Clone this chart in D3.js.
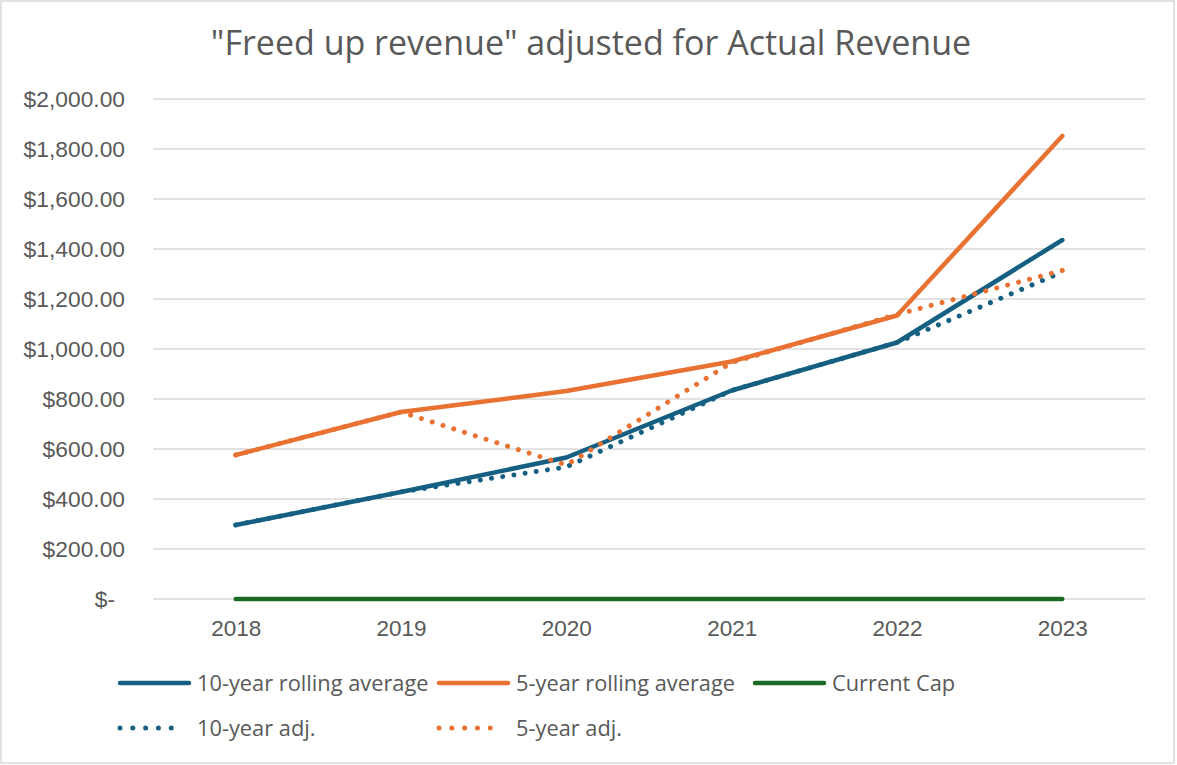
<!DOCTYPE html>
<html>
<head>
<meta charset="utf-8">
<script src="https://cdn.jsdelivr.net/npm/d3@7"></script>
<style>
  body { margin: 0; background: #fff; }
  svg { display: block; }
</style>
</head>
<body>
<svg width="1177" height="765"></svg>
<script>
const years = ['2018', '2019', '2020', '2021', '2022', '2023'];
const tenYear = [296, 428, 566, 834, 1026, 1436];
const fiveYear = [576, 748, 832, 950, 1134, 1852];
const currentCap = [0, 0, 0, 0, 0, 0];
const tenAdj = [296, 428, 528, 834, 1026, 1308];
const fiveAdj = [576, 748, 536, 946, 1138, 1314];
const yTicks = [0, 200, 400, 600, 800, 1000, 1200, 1400, 1600, 1800, 2000];

const svg = d3.select('svg');
const width = +svg.attr('width');
const height = +svg.attr('height');

const textColor = '#595959';
const blue = '#156082';
const orange = '#E97132';
const green = '#196B24';

// chart border
svg.append('rect')
  .attr('x', 1).attr('y', 1)
  .attr('width', width - 4).attr('height', height - 3)
  .attr('fill', '#fff')
  .attr('stroke', '#d9d9d9')
  .attr('stroke-width', 1.5);

svg.append('text')
  .attr('x', 591)
  .attr('y', 55)
  .attr('text-anchor', 'middle')
  .attr('font-family', 'Open Sans, sans-serif')
  .attr('font-size', 34)
  .attr('fill', textColor)
  .text('"Freed up revenue" adjusted for Actual Revenue');

const x = d3.scalePoint().domain(years).range([153, 1145]).padding(0.5);
const y = d3.scaleLinear().domain([0, 2000]).range([599, 99]);

// gridlines
svg.append('g')
  .selectAll('line')
  .data(yTicks)
  .join('line')
  .attr('x1', 153).attr('x2', 1145)
  .attr('y1', d => y(d)).attr('y2', d => y(d))
  .attr('stroke', '#d9d9d9')
  .attr('stroke-width', 1.5);

const money = d => d === 0 ? '$-' : '$' + d3.format(',.2f')(d);

const yAxis = svg.append('g')
  .attr('transform', 'translate(125,0)')
  .call(d3.axisLeft(y).tickValues(yTicks).tickFormat(money).tickSize(0).tickPadding(0));
yAxis.select('.domain').remove();
yAxis.selectAll('text')
  .attr('font-family', 'Liberation Sans, Arial, sans-serif')
  .attr('font-size', 22.8)
  .attr('fill', textColor)
  .attr('dx', d => d === 0 ? -10 : 0);

const xAxis = svg.append('g')
  .attr('transform', 'translate(0,599)')
  .call(d3.axisBottom(x).tickSize(0).tickPadding(21));
xAxis.select('.domain').remove();
xAxis.selectAll('text')
  .attr('font-family', 'Liberation Sans, Arial, sans-serif')
  .attr('font-size', 22.5)
  .attr('fill', textColor);

const line = d3.line()
  .x((d, i) => x(years[i]))
  .y(d => y(d));

const series = [
  { name: '10-year rolling average', values: tenYear, color: blue, dotted: false },
  { name: '5-year rolling average', values: fiveYear, color: orange, dotted: false },
  { name: 'Current Cap', values: currentCap, color: green, dotted: false },
  { name: '10-year adj.', values: tenAdj, color: blue, dotted: true },
  { name: '5-year adj.', values: fiveAdj, color: orange, dotted: true }
];

series.forEach(s => {
  svg.append('path')
    .attr('d', line(s.values))
    .attr('fill', 'none')
    .attr('stroke', s.color)
    .attr('stroke-width', s.dotted ? 5 : 4.5)
    .attr('stroke-linecap', 'round')
    .attr('stroke-linejoin', 'round')
    .attr('stroke-dasharray', s.dotted ? '0.01 11.3' : null);
});

// legend
const legendPos = [
  { x: 118, y: 683 }, { x: 437, y: 683 }, { x: 753, y: 683 },
  { x: 118, y: 728 }, { x: 437, y: 728 }
];
series.forEach((s, i) => {
  const p = legendPos[i];
  const lg = svg.append('g').attr('transform', `translate(${p.x},${p.y})`);
  lg.append('line')
    .attr('x1', 2).attr('x2', s.dotted ? 66 : 71)
    .attr('stroke', s.color)
    .attr('stroke-width', s.dotted ? 5 : 4.5)
    .attr('stroke-linecap', 'round')
    .attr('stroke-dasharray', s.dotted ? '0.01 12.8' : null);
  lg.append('text')
    .attr('x', 79)
    .attr('y', 0)
    .attr('dy', '0.35em')
    .attr('font-family', 'Open Sans, sans-serif')
    .attr('font-size', 21.8)
    .attr('fill', textColor)
    .text(s.name);
});
</script>
</body>
</html>
